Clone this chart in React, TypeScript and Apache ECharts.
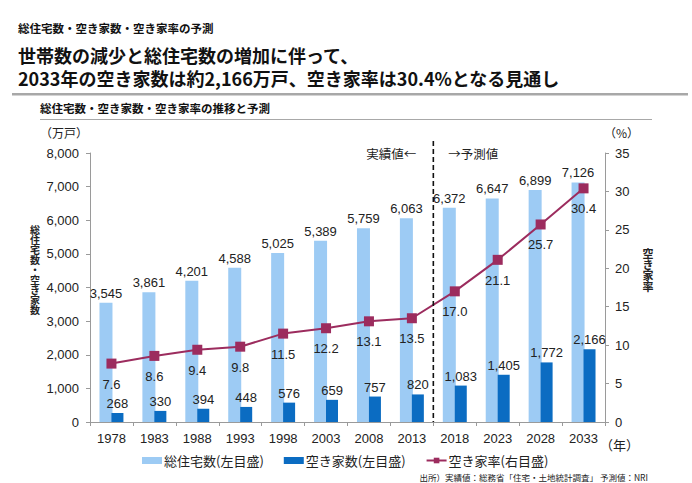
import React, { useEffect, useRef } from "react";
import * as echarts from "echarts";

const years = ["1978", "1983", "1988", "1993", "1998", "2003", "2008", "2013", "2018", "2023", "2028", "2033"];
const totalHousing = [3545, 3861, 4201, 4588, 5025, 5389, 5759, 6063, 6372, 6647, 6899, 7126];
const vacantHomes = [268, 330, 394, 448, 576, 659, 757, 820, 1083, 1405, 1772, 2166];
const vacancyRate = [7.6, 8.6, 9.4, 9.8, 11.5, 12.2, 13.1, 13.5, 17.0, 21.1, 25.7, 30.4];
const leftTicks = { min: 0, max: 8000, interval: 1000 };
const rightTicks = { min: 0, max: 35, interval: 5 };
const seriesNames = ["総住宅数(左目盛)", "空き家数(左目盛)", "空き家率(右目盛)"];
const lastActualIndex = 7;

const LIGHT = "#9DCBF4";
const DARK = "#0B6CC2";
const LINE = "#9C2C5E";
const AXIS = "#9A9A9A";
const FONT = "'Liberation Sans', 'Noto Sans CJK JP', sans-serif";
const JP = "'Noto Sans CJK JP', sans-serif";

export default function App() {
  const ref = useRef<HTMLDivElement>(null);
  useEffect(() => {
    if (!ref.current) return;
    const chart = echarts.init(ref.current, null, { renderer: "svg" });
    const fmt = (v: number) => v.toLocaleString("en-US");
    const option: any = {
      animation: false,
      backgroundColor: "#ffffff",
      textStyle: { fontFamily: FONT },
      grid: { left: 90, right: 87, top: 153, bottom: 61, containLabel: false },
      legend: {
        left: 137,
        top: 449,
        itemWidth: 20,
        itemHeight: 7,
        itemGap: 20,
        textStyle: { fontSize: 13, color: "#222", fontFamily: JP, padding: [0, 0, 0, -3] },
        data: [
          { name: seriesNames[0], icon: "rect" },
          { name: seriesNames[1], icon: "rect" },
          { name: seriesNames[2] },
        ],
      },
      xAxis: {
        type: "category",
        data: years,
        axisLine: { lineStyle: { color: AXIS } },
        axisTick: { show: true, length: 4, lineStyle: { color: AXIS } },
        axisLabel: { fontSize: 13, color: "#222", margin: 10 },
      },
      yAxis: [
        {
          type: "value",
          ...leftTicks,
          axisLine: { show: true, lineStyle: { color: AXIS } },
          axisTick: { show: true, length: 4, lineStyle: { color: AXIS } },
          splitLine: { show: false },
          axisLabel: { fontSize: 13, color: "#222", margin: 11, formatter: (v: number) => fmt(v) },
        },
        {
          type: "value",
          ...rightTicks,
          position: "right",
          axisLine: { show: true, lineStyle: { color: AXIS } },
          axisTick: { show: true, length: 4, lineStyle: { color: AXIS } },
          splitLine: { show: false },
          axisLabel: { fontSize: 13, color: "#222", margin: 10 },
        },
      ],
      series: [
        {
          name: seriesNames[0],
          type: "bar",
          data: totalHousing,
          barWidth: 13,
          barGap: "-8%",
          itemStyle: { color: LIGHT },
          label: { show: true, position: "top", distance: 3, fontSize: 13, color: "#222", formatter: (p: any) => fmt(p.value) },
          z: 2,
        },
        {
          name: seriesNames[1],
          type: "bar",
          data: vacantHomes,
          barWidth: 12,
          itemStyle: { color: DARK },
          label: { show: true, position: "top", distance: 3, fontSize: 13, color: "#222", formatter: (p: any) => fmt(p.value) },
          z: 3,
        },
        {
          name: seriesNames[2],
          type: "line",
          yAxisIndex: 1,
          data: vacancyRate,
          symbol: "rect",
          symbolSize: 10,
          lineStyle: { color: LINE, width: 2 },
          itemStyle: { color: LINE },
          label: { show: true, position: "bottom", distance: 9, fontSize: 13, color: "#222", formatter: (p: any) => p.value.toFixed(1) },
          z: 5,
        },
      ],
    };
    chart.setOption(option);

    const x1 = chart.convertToPixel({ xAxisIndex: 0 }, years[lastActualIndex]) as number;
    const x2 = chart.convertToPixel({ xAxisIndex: 0 }, years[lastActualIndex + 1]) as number;
    const xd = (x1 + x2) / 2;
    const y0 = chart.convertToPixel({ yAxisIndex: 0 }, 0) as number;

    const vText = (text: string, x: number, y: number, size: number, lh: number) => ({
      type: "group",
      children: text.split("").map((ch, i) => ({
        type: "text",
        x,
        y: y + i * lh,
        style: { text: ch, fontSize: size, fontWeight: "bold", fontFamily: JP, fill: "#222", align: "center", verticalAlign: "top" },
      })),
    });

    chart.setOption({
      graphic: [
        { type: "text", x: 18, y: 28, style: { text: "総住宅数・空き家数・空き家率の予測", font: `bold 11.5px ${JP}`, fill: "#111", verticalAlign: "middle" } },
        { type: "text", x: 18, y: 55, style: { text: "世帯数の減少と総住宅数の増加に伴って、", font: `bold 18px ${JP}`, fill: "#111", verticalAlign: "middle" } },
        { type: "text", x: 18, y: 78, style: { text: "2033年の空き家数は約2,166万戸、空き家率は30.4%となる見通し", font: `bold 18px ${JP}`, fill: "#111", verticalAlign: "middle" } },
        { type: "rect", shape: { x: 12, y: 93, width: 676, height: 2.5 }, style: { fill: "#A8A8A8" } },
        { type: "text", x: 40, y: 108, style: { text: "総住宅数・空き家数・空き家率の推移と予測", font: `bold 11.5px ${JP}`, fill: "#111", verticalAlign: "middle" } },
        { type: "line", shape: { x1: 40, y1: 119.5, x2: 652, y2: 119.5 }, style: { stroke: "#A8A8A8", lineWidth: 1 } },
        { type: "text", x: 40, y: 132, style: { text: "（万戸）", font: `12px ${JP}`, fill: "#222", verticalAlign: "middle" } },
        { type: "text", x: 604, y: 132, style: { text: "（%）", font: `12px ${JP}`, fill: "#222", verticalAlign: "middle" } },
        vText("総住宅数・空き家数", 35, 224, 10, 10.1),
        vText("空き家率", 648, 247, 11, 11.2),
        { type: "text", x: 600, y: 444, style: { text: "（年）", font: `13px ${JP}`, fill: "#222", verticalAlign: "middle" } },
        { type: "text", x: 648, y: 477, style: { text: "出所）実績値：総務省「住宅・土地統計調査」 予測値：NRI", font: `8.5px ${JP}`, fill: "#222", align: "right", verticalAlign: "middle" } },
        { type: "line", shape: { x1: xd, y1: 141, x2: xd, y2: y0 }, style: { stroke: "#111", lineWidth: 1.6, lineDash: [5, 3] }, z: 10 },
        { type: "text", x: xd - 17, y: 153, style: { text: "実績値←", font: `12.5px ${JP}`, fill: "#222", align: "right", verticalAlign: "middle" } },
        { type: "text", x: xd + 15, y: 153, style: { text: "→予測値", font: `12.5px ${JP}`, fill: "#222", align: "left", verticalAlign: "middle" } },
      ],
    });
    return () => chart.dispose();
  }, []);
  return <div ref={ref} style={{ position: "fixed", left: 0, top: 0, width: 692, height: 483 }} />;
}
